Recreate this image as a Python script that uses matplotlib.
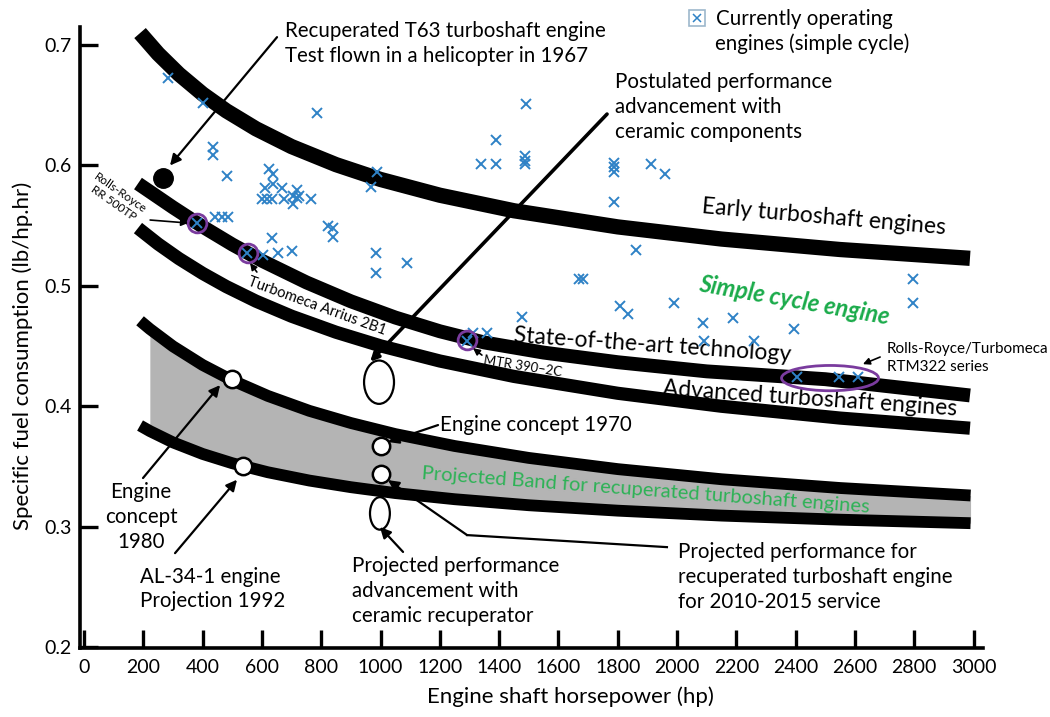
import matplotlib
matplotlib.use("Agg")
import matplotlib.pyplot as plt
from matplotlib.patches import Ellipse
from matplotlib.lines import Line2D
from matplotlib.legend_handler import HandlerTuple

plt.rcParams['font.family'] = ['Lato', 'DejaVu Sans']

# trend curves: shaft hp -> sfc (lb/hp.hr)
early_hp = [189, 250, 320, 400, 480, 580, 700, 850, 1000, 1200, 1450, 1800, 2150, 2550, 2988]
early_sfc = [0.710, 0.6928, 0.6759, 0.6594, 0.6454, 0.6305, 0.6157, 0.6007, 0.5884,
             0.5753, 0.5624, 0.5490, 0.5389, 0.5302, 0.5229]

sota_hp = [182, 300, 400, 500, 600, 750, 900, 1050, 1200, 1350, 1550, 1800, 2100, 2500, 2988]
sota_sfc = [0.585, 0.5652, 0.5492, 0.5344, 0.5209, 0.5029, 0.4872, 0.4737, 0.4623,
            0.4530, 0.4446, 0.4366, 0.4290, 0.4225, 0.409]

adv_hp = [182, 250, 320, 400, 480, 580, 700, 850, 1000, 1200, 1450, 1800, 2150, 2550, 2988]
adv_sfc = [0.548, 0.5348, 0.5227, 0.5104, 0.4994, 0.4873, 0.4748, 0.4615, 0.4502,
           0.4376, 0.4248, 0.4108, 0.4000, 0.3902, 0.3818]

band_hp = [189, 222, 300, 400, 500, 620, 760, 900, 1050, 1250, 1500, 1800, 2150, 2550, 2990]
band_hi = [0.471, 0.4642, 0.4498, 0.4343, 0.4215, 0.4086, 0.3962, 0.3861, 0.3769,
           0.3670, 0.3571, 0.3478, 0.3394, 0.3321, 0.3259]
band_lo = [0.384, 0.3794, 0.3700, 0.3604, 0.3527, 0.3452, 0.3383, 0.3328, 0.3279,
           0.3228, 0.3178, 0.3133, 0.3092, 0.3058, 0.3029]

# currently operating engines (blue crosses)
eng_hp = [283, 401, 786, 435, 435, 482, 624, 637, 988, 968,
          610, 637, 668, 718, 600, 617, 634, 675, 705, 718,
          725, 705, 766, 442, 465, 486, 381, 823, 840, 840,
          634, 550, 604, 654, 701, 985, 985, 1089,
          1491, 1390, 1339, 1390, 1487, 1487, 1487, 1788, 1788, 1788,
          1912, 1960, 1788, 1862, 1670, 1683, 1808, 1835, 1990, 1477,
          2088, 1312, 1359, 1292, 2091, 2796, 2796, 2189, 2395, 2260,
          2405, 2546, 2610]
eng_sfc = [0.673, 0.652, 0.644, 0.615, 0.609, 0.591, 0.597, 0.593, 0.595, 0.582,
           0.581, 0.585, 0.581, 0.580, 0.572, 0.572, 0.572, 0.572, 0.575, 0.573,
           0.575, 0.568, 0.572, 0.557, 0.557, 0.557, 0.552, 0.550, 0.548, 0.541,
           0.540, 0.527, 0.526, 0.527, 0.529, 0.527, 0.511, 0.519,
           0.651, 0.621, 0.601, 0.601, 0.608, 0.604, 0.601, 0.602, 0.599, 0.595,
           0.601, 0.593, 0.570, 0.530, 0.506, 0.506, 0.483, 0.477, 0.486, 0.474,
           0.469, 0.461, 0.461, 0.454, 0.454, 0.506, 0.486, 0.473, 0.464, 0.454,
           0.424, 0.424, 0.424]

# highlighted engines (purple rings)
hl_hp = [381, 553, 1292]
hl_sfc = [0.552, 0.527, 0.455]

# open circles: concept 1980, AL-34-1, concept 1970, ceramic recuperator point
pt_hp = [499, 536, 1000, 1000]
pt_sfc = [0.423, 0.350, 0.367, 0.344]

t63_hp, t63_sfc = 266, 0.590

xticks = list(range(0, 3001, 200))
yticks = [0.2, 0.3, 0.4, 0.5, 0.6, 0.7]

blue = '#2f82c6'
purple = '#7a3b9e'
green = '#1aab4a'

fig = plt.figure(figsize=(10.5, 7.17), dpi=100)
ax = fig.add_axes([0.0762, 0.0962, 0.8600, 0.8661])

ax.fill_between(band_hp[1:], band_lo[1:], band_hi[1:], color='#b4b4b4', lw=0, zorder=1)
for xs, ys, w in [(early_hp, early_sfc, 11), (sota_hp, sota_sfc, 10),
                  (adv_hp, adv_sfc, 9.5), (band_hp, band_hi, 8.5), (band_hp, band_lo, 8.5)]:
    ax.plot(xs, ys, color='black', lw=w, solid_capstyle='butt', solid_joinstyle='round', zorder=2)

ax.plot(eng_hp, eng_sfc, ls='none', marker='x', ms=6.5, mew=1.4, color=blue, zorder=5)
ax.plot(hl_hp, hl_sfc, ls='none', marker='o', ms=13.5, mfc='none', mec=purple, mew=2, zorder=6)
ax.plot(pt_hp, pt_sfc, ls='none', marker='o', ms=12.5, mfc='white', mec='black', mew=1.8, zorder=6)
ax.plot([t63_hp], [t63_sfc], ls='none', marker='o', ms=14, color='black', zorder=6)

ax.add_patch(Ellipse((995, 0.420), 101, 0.036, fc='white', ec='black', lw=1.6, zorder=4))
ax.add_patch(Ellipse((998, 0.311), 67, 0.027, fc='white', ec='black', lw=1.6, zorder=4))
ax.add_patch(Ellipse((2516, 0.4234), 327, 0.021, fc='none', ec=purple, lw=2, zorder=6))


def arrow(x0, y0, x1, y1, lw=1.6, ms=16):
    ax.annotate('', xy=(x1, y1), xytext=(x0, y0), zorder=7,
                arrowprops=dict(arrowstyle='-|>', color='black', lw=lw,
                                mutation_scale=ms, shrinkA=0, shrinkB=0))


arrow(651, 0.7066, 290, 0.600)
arrow(1764, 0.6427, 965, 0.437, lw=2.6, ms=12)
arrow(223, 0.5547, 351, 0.5522, lw=1.2, ms=10)
arrow(583, 0.5115, 560, 0.519, lw=1.2, ms=10)
arrow(1342, 0.4425, 1312, 0.4483, lw=1.2, ms=10)
arrow(2685, 0.4409, 2627, 0.435, lw=1.2, ms=10)
arrow(1194, 0.3844, 1025, 0.3703)
ax.plot([1966, 1292], [0.283, 0.293], color='black', lw=1.6, zorder=7)
arrow(1292, 0.293, 1025, 0.3387)
arrow(1076, 0.279, 998, 0.2997)
arrow(199, 0.3404, 459, 0.4176)
arrow(307, 0.278, 516, 0.339)

fs = 14.8
ls = 1.3
ax.text(678, 0.7012, 'Recuperated T63 turboshaft engine\nTest flown in a helicopter in 1967',
        fontsize=fs, ha='left', va='center', linespacing=ls)
ax.text(1791, 0.6485, 'Postulated performance\nadvancement with\nceramic components',
        fontsize=fs, ha='left', va='center', linespacing=ls)
ax.text(1201, 0.3844, 'Engine concept 1970', fontsize=fs, ha='left', va='center')
ax.text(904, 0.2465, 'Projected performance\nadvancement with\nceramic recuperator',
        fontsize=fs, ha='left', va='center', linespacing=ls)
ax.text(2003, 0.2581, 'Projected performance for\nrecuperated turboshaft engine\nfor 2010-2015 service',
        fontsize=fs, ha='left', va='center', linespacing=ls)
ax.text(192, 0.308, 'Engine\nconcept\n1980', fontsize=fs, ha='center', va='center', linespacing=ls)
ax.text(189, 0.2482, 'AL-34-1 engine\nProjection 1992', fontsize=fs, ha='left', va='center',
        linespacing=ls)
ax.text(2708, 0.440, 'Rolls-Royce/Turbomeca\nRTM322 series', fontsize=11, ha='left', va='center',
        linespacing=1.3)
ax.text(111, 0.573, 'Rolls-Royce\nRR 500TP', fontsize=8.5, ha='center', va='center', rotation=-35,
        rotation_mode='anchor', linespacing=1.1)
ax.text(786, 0.4832, 'Turbomeca Arrius 2B1', fontsize=10.5, ha='center', va='center',
        rotation=-20, rotation_mode='anchor')
ax.text(1481, 0.4335, 'MTR 390–2C', fontsize=9.5, ha='center', va='center', rotation=-9,
        rotation_mode='anchor')
ax.text(1916, 0.4505, 'State-of-the-art technology', fontsize=16.5, ha='center', va='center',
        rotation=-4, rotation_mode='anchor')
ax.text(2449, 0.4065, 'Advanced turboshaft engines', fontsize=16.5, ha='center', va='center',
        rotation=-4, rotation_mode='anchor')
ax.text(2496, 0.557, 'Early turboshaft engines', fontsize=16.5, ha='center', va='center',
        rotation=-5, rotation_mode='anchor')
ax.text(2395, 0.4882, 'Simple cycle engine', fontsize=17, ha='center', va='center', color=green,
        fontweight='bold', fontstyle='italic', rotation=-10, rotation_mode='anchor')
ax.text(1895, 0.3305, 'Projected Band for recuperated turboshaft engines', fontsize=14.5,
        ha='center', va='center', color='#2db256', rotation=-4.3, rotation_mode='anchor')

# legend for the crosses: open square with a cross inside
h_box = Line2D([], [], ls='none', marker='s', ms=11, mfc='none', mec='#9db8cc', mew=1.2)
h_x = Line2D([], [], ls='none', marker='x', ms=6, mew=1.1, color=blue)
ax.legend([(h_box, h_x)], ['Currently operating'], handler_map={tuple: HandlerTuple(ndivide=1)},
          loc='center left', bbox_to_anchor=(688 / 1050, 1 - 19 / 717), bbox_transform=fig.transFigure,
          frameon=False, fontsize=fs, handlelength=0.9, handletextpad=0.45, borderpad=0,
          borderaxespad=0)
ax.text(2128, 0.7008, 'engines (simple cycle)', fontsize=fs, ha='left', va='center')

ax.set_xlim(-13.5, 3032)
ax.set_ylim(0.1992, 0.715)
ax.set_xticks(xticks)
ax.set_yticks(yticks)
ax.set_yticklabels([f'{v:.1f}' for v in yticks])
for s in ['top', 'right']:
    ax.spines[s].set_visible(False)
for s in ['left', 'bottom']:
    ax.spines[s].set_linewidth(2.6)
ax.tick_params(direction='in', length=13, width=2.4, labelsize=14)
ax.tick_params(axis='x', pad=8)
ax.tick_params(axis='y', pad=6)

ax.set_xlabel('Engine shaft horsepower (hp)', fontsize=16)
ax.xaxis.set_label_coords(0.543, -0.079)
ax.xaxis.label.set_va('center')
ax.set_ylabel('Specific fuel consumption (lb/hp.hr)', fontsize=16)
ax.yaxis.set_label_coords(-0.064, 0.47)
ax.yaxis.label.set_va('center')

fig.savefig('out.png', dpi=100)
